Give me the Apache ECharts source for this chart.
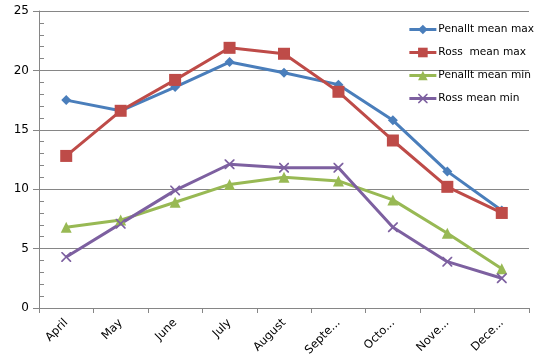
<!DOCTYPE html>
<html><head><meta charset="utf-8">
<script src="https://cdn.jsdelivr.net/npm/echarts@6/dist/echarts.min.js"></script>
<style>html,body{margin:0;padding:0;background:#fff}#c{width:546px;height:360px}</style>
</head><body><div id="c"></div>
<script>
var months = ['April','May','June','July','August','September','October','November','December'];
var monthLabels = ['April','May','June','July','August','Septe...','Octo...','Nove...','Dece...'];
var penalltMax = [17.5,16.6,18.6,20.7,19.8,18.8,15.8,11.5,8.2];
var rossMax = [12.8,16.6,19.2,21.9,21.4,18.2,14.1,10.2,8.0];
var penalltMin = [6.8,7.4,8.9,10.4,11.0,10.7,9.1,6.3,3.3];
var rossMin = [4.3,7.1,9.9,12.1,11.8,11.8,6.8,3.9,2.5];
var yTicks = [0,5,10,15,20,25];

var xPath = 'path://M0,0L1.2,0L5,3.8L8.8,0L10,0L10,1.2L6.2,5L10,8.8L10,10L8.8,10L5,6.2L1.2,10L0,10L0,8.8L3.8,5L0,1.2Z';
var font = 'DejaVu Sans';
var chart = echarts.init(document.getElementById('c'));
function s(name, data, color, symbol, size) {
  return {name:name, type:'line', data:data, symbol:symbol, symbolSize:size,
    lineStyle:{color:color, width:3}, itemStyle:{color:color}, color:color,
    showSymbol:true, animation:false, emphasis:{disabled:true}};
}
chart.setOption({
  animation:false,
  backgroundColor:'#fff',
  grid:{left:39, right:17, top:11, bottom:52, containLabel:false},
  legend:{orient:'vertical', right:7, top:19, itemGap:12, itemWidth:27, itemHeight:12,
    lineStyle:{width:3},
    textStyle:{fontFamily:font, fontSize:10.6, color:'#000', padding:[0,0,0,-3]},
    data:['Penallt mean max','Ross  mean max','Penallt mean min','Ross mean min']},
  xAxis:{type:'category', data:months, boundaryGap:true,
    axisLine:{lineStyle:{color:'#868686'}},
    axisTick:{show:true, length:5, alignWithLabel:false, lineStyle:{color:'#868686'}},
    axisLabel:{rotate:45, interval:0, fontFamily:font, fontSize:11.5, color:'#000', margin:13,
      formatter:function(v, i){return monthLabels[i];}},
    splitLine:{show:false}},
  yAxis:[{type:'value', min:yTicks[0], max:yTicks[yTicks.length-1], interval:5,
    axisLine:{show:true, lineStyle:{color:'#868686'}},
    axisTick:{show:true, length:6, lineStyle:{color:'#868686'}},
    axisLabel:{fontFamily:font, fontSize:12, color:'#000', margin:10},
    splitLine:{show:true, lineStyle:{color:'#868686', width:1}}},
   {type:'value', min:0, max:25, interval:1, position:'left',
    axisLine:{show:false}, axisLabel:{show:false}, splitLine:{show:false},
    axisTick:{show:true, inside:true, length:5, lineStyle:{color:'#868686'}}}],
  series:[
    s('Penallt mean max', penalltMax, '#4A7EBB', 'diamond', 10),
    s('Ross  mean max', rossMax, '#BE4B48', 'rect', 12),
    s('Penallt mean min', penalltMin, '#98B954', 'triangle', 11),
    s('Ross mean min', rossMin, '#7D60A0', xPath, 10)
  ]
});
</script></body></html>
